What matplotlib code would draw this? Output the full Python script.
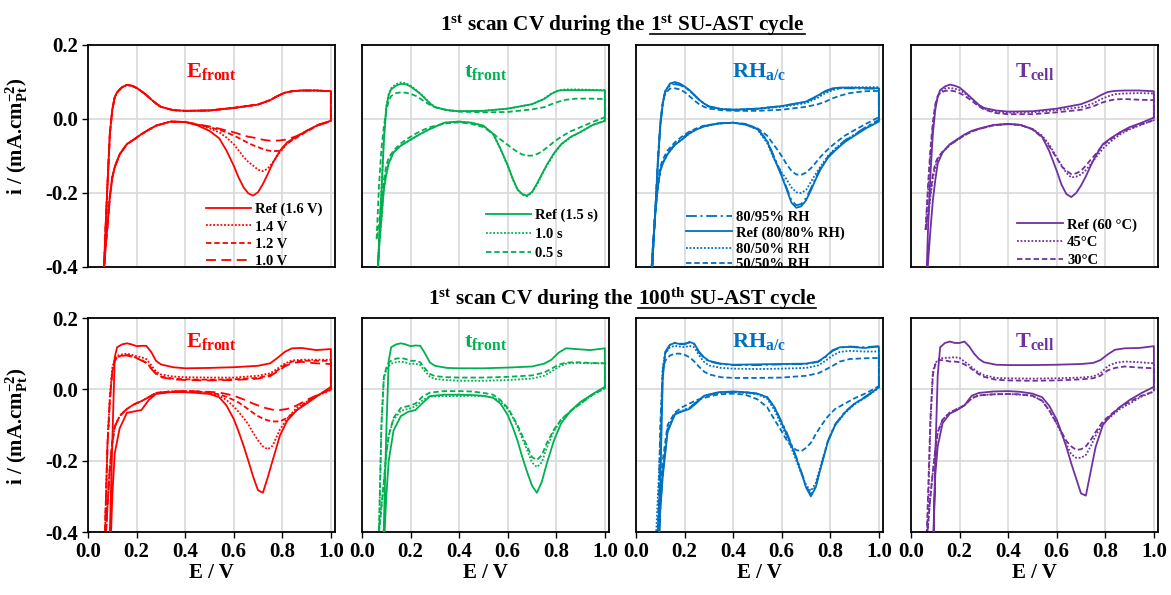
import matplotlib
matplotlib.use('Agg')
import matplotlib.pyplot as plt
from matplotlib.lines import Line2D

plt.rcParams['font.family'] = 'Liberation Serif'
plt.rcParams['font.weight'] = 'bold'
plt.rcParams['axes.unicode_minus'] = False
plt.rcParams['mathtext.fontset'] = 'custom'
plt.rcParams['mathtext.rm'] = 'Liberation Serif:bold'
plt.rcParams['mathtext.bf'] = 'Liberation Serif:bold'
plt.rcParams['mathtext.it'] = 'Liberation Serif:bold'

# potential grids (anodic sweep up, cathodic sweep down)
E_up = [0.06, 0.07, 0.08, 0.09, 0.10, 0.11, 0.12, 0.14, 0.16, 0.18, 0.20, 0.22, 0.24, 0.26,
        0.28, 0.30, 0.35, 0.40, 0.50, 0.60, 0.70, 0.75, 0.78, 0.81, 0.84, 0.88, 0.94, 1.00]
E_dn = [1.00, 0.95, 0.90, 0.86, 0.82, 0.79, 0.76, 0.74, 0.72, 0.70, 0.68, 0.66, 0.64, 0.62,
        0.60, 0.57, 0.54, 0.50, 0.45, 0.40, 0.34, 0.28, 0.25, 0.22, 0.19, 0.16, 0.13, 0.11,
        0.10, 0.09, 0.08, 0.07, 0.06]

# ---- 1st SU-AST cycle ----
# E_front
ef1_up = [-0.55, -0.33, -0.18, -0.04, 0.025, 0.059, 0.072, 0.086, 0.092, 0.090, 0.084, 0.075, 0.065, 0.053,
          0.042, 0.033, 0.024, 0.022, 0.023, 0.030, 0.039, 0.051, 0.062, 0.071, 0.075, 0.077, 0.077, 0.075]
ef1_ref_dn = [-0.005, -0.015, -0.032, -0.047, -0.063, -0.086, -0.120, -0.149, -0.176, -0.198, -0.207, -0.201, -0.184, -0.158,
              -0.126, -0.085, -0.052, -0.032, -0.017, -0.008, -0.007, -0.018, -0.029, -0.041, -0.055, -0.068, -0.096, -0.130,
              -0.158, -0.210, -0.290, -0.365, -0.450]
ef1_14_dn = [-0.005, -0.015, -0.032, -0.047, -0.066, -0.090, -0.118, -0.134, -0.141, -0.137, -0.126, -0.116, -0.102, -0.085,
             -0.068, -0.050, -0.036, -0.025, -0.016, -0.008, -0.007, -0.018, -0.029, -0.041, -0.055, -0.068, -0.096, -0.130,
             -0.158, -0.210, -0.290, -0.365, -0.450]
ef1_12_dn = [-0.005, -0.016, -0.034, -0.050, -0.066, -0.086, -0.087, -0.085, -0.081, -0.076, -0.071, -0.065, -0.058, -0.051,
             -0.045, -0.036, -0.029, -0.022, -0.015, -0.008, -0.007, -0.018, -0.029, -0.041, -0.055, -0.068, -0.096, -0.130,
             -0.158, -0.210, -0.290, -0.365, -0.450]
ef1_10_dn = [-0.006, -0.017, -0.032, -0.046, -0.055, -0.058, -0.059, -0.058, -0.056, -0.053, -0.050, -0.048, -0.044, -0.040,
             -0.036, -0.031, -0.026, -0.020, -0.014, -0.008, -0.007, -0.018, -0.029, -0.041, -0.055, -0.068, -0.096, -0.130,
             -0.158, -0.210, -0.290, -0.365, -0.450]

# t_front
tf1_ref_up = [-0.55, -0.33, -0.20, -0.06, 0.030, 0.065, 0.080, 0.090, 0.095, 0.094, 0.088, 0.078, 0.068, 0.055,
              0.042, 0.032, 0.024, 0.021, 0.022, 0.028, 0.040, 0.054, 0.068, 0.077, 0.078, 0.078, 0.078, 0.077]
tf1_10_up = [-0.55, -0.33, -0.19, -0.05, 0.035, 0.068, 0.083, 0.094, 0.099, 0.097, 0.090, 0.080, 0.069, 0.056,
             0.043, 0.033, 0.024, 0.021, 0.022, 0.028, 0.040, 0.055, 0.069, 0.078, 0.080, 0.080, 0.079, 0.078]
tf1_05_up = [-0.325, -0.18, -0.08, -0.02, 0.022, 0.050, 0.062, 0.070, 0.072, 0.071, 0.068, 0.063, 0.055, 0.046,
             0.038, 0.032, 0.024, 0.020, 0.018, 0.019, 0.026, 0.032, 0.040, 0.047, 0.052, 0.055, 0.055, 0.054]
tf1_ref_dn = [-0.005, -0.016, -0.035, -0.048, -0.068, -0.093, -0.125, -0.150, -0.175, -0.197, -0.207, -0.203, -0.190, -0.160,
              -0.125, -0.080, -0.040, -0.018, -0.010, -0.007, -0.010, -0.027, -0.037, -0.048, -0.060, -0.072, -0.090, -0.120,
              -0.149, -0.190, -0.270, -0.350, -0.450]
tf1_10_dn = [-0.005, -0.016, -0.035, -0.049, -0.069, -0.095, -0.127, -0.152, -0.178, -0.199, -0.209, -0.205, -0.191, -0.162,
             -0.127, -0.082, -0.041, -0.019, -0.010, -0.007, -0.010, -0.027, -0.037, -0.048, -0.060, -0.072, -0.090, -0.120,
             -0.149, -0.190, -0.270, -0.350, -0.450]
tf1_05_dn = [0.005, -0.008, -0.022, -0.033, -0.048, -0.062, -0.078, -0.088, -0.095, -0.099, -0.099, -0.096, -0.089, -0.080,
             -0.070, -0.055, -0.040, -0.022, -0.013, -0.009, -0.012, -0.022, -0.030, -0.040, -0.052, -0.066, -0.085, -0.105,
             -0.125, -0.165, -0.220, -0.290, -0.325]

# RH a/c
rh1_ref_up = [-0.55, -0.36, -0.24, -0.12, -0.020, 0.040, 0.075, 0.096, 0.100, 0.096, 0.088, 0.078, 0.065, 0.052,
              0.042, 0.034, 0.027, 0.025, 0.028, 0.035, 0.047, 0.064, 0.076, 0.083, 0.085, 0.085, 0.084, 0.083]
rh1_95_up = [-0.55, -0.36, -0.24, -0.12, -0.015, 0.042, 0.073, 0.091, 0.094, 0.092, 0.086, 0.077, 0.065, 0.052,
             0.042, 0.034, 0.027, 0.025, 0.028, 0.035, 0.046, 0.062, 0.074, 0.081, 0.083, 0.083, 0.082, 0.082]
rh1_50_up = [-0.55, -0.36, -0.24, -0.12, -0.015, 0.042, 0.074, 0.094, 0.097, 0.094, 0.087, 0.077, 0.065, 0.052,
             0.042, 0.034, 0.027, 0.025, 0.027, 0.033, 0.043, 0.058, 0.070, 0.078, 0.083, 0.085, 0.086, 0.086]
rh1_5050_up = [-0.55, -0.36, -0.24, -0.11, -0.010, 0.045, 0.070, 0.082, 0.083, 0.080, 0.073, 0.062, 0.050, 0.040,
               0.033, 0.028, 0.024, 0.022, 0.022, 0.025, 0.033, 0.040, 0.047, 0.056, 0.063, 0.070, 0.075, 0.076]
rh1_ref_dn = [-0.007, -0.024, -0.045, -0.062, -0.085, -0.105, -0.136, -0.163, -0.193, -0.220, -0.236, -0.240, -0.226, -0.190,
              -0.155, -0.108, -0.060, -0.027, -0.015, -0.010, -0.012, -0.020, -0.028, -0.039, -0.055, -0.070, -0.095, -0.120,
              -0.140, -0.183, -0.250, -0.340, -0.450]
rh1_95_dn = [-0.002, -0.020, -0.042, -0.058, -0.082, -0.102, -0.132, -0.158, -0.188, -0.214, -0.230, -0.233, -0.220, -0.186,
             -0.150, -0.104, -0.058, -0.026, -0.014, -0.010, -0.012, -0.019, -0.026, -0.036, -0.052, -0.068, -0.092, -0.118,
             -0.138, -0.180, -0.250, -0.340, -0.450]
rh1_50_dn = [-0.005, -0.022, -0.042, -0.058, -0.080, -0.100, -0.128, -0.148, -0.170, -0.192, -0.200, -0.198, -0.185, -0.163,
             -0.145, -0.110, -0.065, -0.028, -0.015, -0.010, -0.012, -0.020, -0.028, -0.039, -0.055, -0.070, -0.095, -0.120,
             -0.140, -0.183, -0.250, -0.340, -0.450]
rh1_5050_dn = [0.005, -0.012, -0.030, -0.045, -0.065, -0.082, -0.102, -0.118, -0.133, -0.145, -0.151, -0.150, -0.140, -0.122,
               -0.100, -0.072, -0.045, -0.025, -0.013, -0.010, -0.012, -0.018, -0.025, -0.034, -0.047, -0.063, -0.085, -0.110,
               -0.130, -0.175, -0.245, -0.340, -0.450]

# T_cell
tc1_ref_up = [-0.50, -0.30, -0.15, -0.04, 0.025, 0.060, 0.078, 0.088, 0.093, 0.090, 0.085, 0.074, 0.062, 0.050,
              0.038, 0.030, 0.023, 0.020, 0.021, 0.028, 0.040, 0.053, 0.064, 0.073, 0.076, 0.077, 0.077, 0.075]
tc1_45_up = [-0.30, -0.20, -0.10, -0.02, 0.035, 0.060, 0.072, 0.082, 0.084, 0.082, 0.078, 0.070, 0.060, 0.048,
             0.036, 0.028, 0.019, 0.017, 0.018, 0.024, 0.032, 0.042, 0.053, 0.061, 0.067, 0.069, 0.070, 0.069]
tc1_30_up = [-0.30, -0.18, -0.08, -0.01, 0.040, 0.062, 0.070, 0.076, 0.077, 0.075, 0.070, 0.063, 0.054, 0.044,
             0.034, 0.026, 0.016, 0.013, 0.013, 0.018, 0.025, 0.034, 0.043, 0.049, 0.053, 0.054, 0.052, 0.051]
tc1_ref_dn = [0.004, -0.010, -0.022, -0.036, -0.053, -0.068, -0.100, -0.126, -0.155, -0.180, -0.200, -0.211, -0.203, -0.178,
              -0.140, -0.088, -0.048, -0.027, -0.016, -0.013, -0.016, -0.026, -0.032, -0.042, -0.055, -0.068, -0.090, -0.120,
              -0.165, -0.220, -0.300, -0.390, -0.500]
tc1_45_dn = [-0.003, -0.015, -0.028, -0.042, -0.062, -0.080, -0.105, -0.122, -0.138, -0.150, -0.156, -0.158, -0.146, -0.125,
             -0.104, -0.070, -0.045, -0.027, -0.016, -0.014, -0.017, -0.027, -0.034, -0.044, -0.057, -0.070, -0.090, -0.110,
             -0.130, -0.160, -0.210, -0.270, -0.300]
tc1_30_dn = [-0.003, -0.014, -0.026, -0.038, -0.056, -0.070, -0.095, -0.110, -0.126, -0.140, -0.147, -0.149, -0.140, -0.128,
             -0.105, -0.075, -0.050, -0.028, -0.016, -0.014, -0.017, -0.027, -0.034, -0.044, -0.057, -0.070, -0.088, -0.105,
             -0.120, -0.150, -0.200, -0.260, -0.300]

# ---- 100th SU-AST cycle ----
ef2_ref_up = [-0.90, -0.80, -0.70, -0.40, -0.150, 0.090, 0.118, 0.126, 0.129, 0.126, 0.121, 0.122, 0.122, 0.105,
              0.080, 0.070, 0.062, 0.059, 0.060, 0.062, 0.066, 0.073, 0.088, 0.105, 0.115, 0.116, 0.110, 0.113]
ef2_14_up = [-0.60, -0.40, -0.15, -0.02, 0.060, 0.085, 0.094, 0.098, 0.100, 0.097, 0.093, 0.090, 0.085, 0.068,
             0.050, 0.042, 0.036, 0.034, 0.033, 0.033, 0.038, 0.045, 0.058, 0.072, 0.081, 0.083, 0.083, 0.083]
ef2_12_up = [-0.60, -0.40, -0.16, -0.03, 0.050, 0.080, 0.090, 0.095, 0.096, 0.093, 0.088, 0.082, 0.075, 0.060,
             0.045, 0.036, 0.030, 0.028, 0.027, 0.028, 0.032, 0.040, 0.053, 0.068, 0.078, 0.080, 0.080, 0.080]
ef2_10_up = [-0.60, -0.40, -0.16, -0.03, 0.050, 0.080, 0.090, 0.094, 0.095, 0.092, 0.087, 0.081, 0.074, 0.058,
             0.043, 0.034, 0.028, 0.026, 0.025, 0.026, 0.030, 0.037, 0.050, 0.064, 0.074, 0.077, 0.073, 0.071]
ef2_ref_dn = [0.007, -0.016, -0.040, -0.058, -0.088, -0.130, -0.200, -0.247, -0.290, -0.283, -0.245, -0.200, -0.157, -0.118,
              -0.083, -0.045, -0.022, -0.013, -0.010, -0.008, -0.008, -0.013, -0.030, -0.058, -0.062, -0.066, -0.110, -0.180,
              -0.300, -0.500, -0.700, -0.800, -0.900]
ef2_14_dn = [-0.002, -0.016, -0.035, -0.051, -0.082, -0.113, -0.158, -0.168, -0.160, -0.143, -0.122, -0.098, -0.080, -0.063,
             -0.048, -0.030, -0.018, -0.010, -0.006, -0.005, -0.006, -0.010, -0.022, -0.033, -0.042, -0.055, -0.075, -0.105,
             -0.150, -0.220, -0.330, -0.450, -0.600]
ef2_12_dn = [0.000, -0.015, -0.035, -0.058, -0.080, -0.090, -0.090, -0.087, -0.082, -0.075, -0.066, -0.056, -0.046, -0.037,
             -0.030, -0.021, -0.014, -0.009, -0.006, -0.005, -0.006, -0.010, -0.022, -0.033, -0.042, -0.055, -0.075, -0.105,
             -0.150, -0.220, -0.330, -0.450, -0.600]
ef2_10_dn = [0.000, -0.014, -0.030, -0.045, -0.055, -0.058, -0.057, -0.054, -0.050, -0.045, -0.040, -0.034, -0.028, -0.023,
             -0.018, -0.013, -0.009, -0.007, -0.006, -0.005, -0.006, -0.010, -0.022, -0.033, -0.042, -0.055, -0.075, -0.105,
             -0.150, -0.220, -0.330, -0.450, -0.600]

tf2_ref_up = [-0.70, -0.70, -0.70, -0.38, -0.120, 0.080, 0.118, 0.126, 0.129, 0.126, 0.121, 0.123, 0.122, 0.100,
              0.075, 0.066, 0.060, 0.059, 0.059, 0.061, 0.064, 0.072, 0.083, 0.103, 0.115, 0.113, 0.110, 0.115]
tf2_10_up = [-0.60, -0.40, -0.10, 0.030, 0.055, 0.065, 0.072, 0.076, 0.078, 0.075, 0.071, 0.072, 0.068, 0.050,
             0.035, 0.029, 0.026, 0.024, 0.024, 0.026, 0.030, 0.038, 0.050, 0.063, 0.072, 0.074, 0.073, 0.073]
tf2_05_up = [-0.60, -0.40, -0.10, 0.035, 0.060, 0.075, 0.080, 0.086, 0.088, 0.085, 0.080, 0.080, 0.076, 0.058,
             0.043, 0.037, 0.034, 0.033, 0.033, 0.035, 0.039, 0.047, 0.058, 0.069, 0.075, 0.076, 0.074, 0.073]
tf2_ref_dn = [0.007, -0.013, -0.035, -0.060, -0.095, -0.144, -0.210, -0.260, -0.290, -0.270, -0.232, -0.190, -0.143, -0.105,
              -0.072, -0.040, -0.024, -0.018, -0.016, -0.015, -0.015, -0.019, -0.038, -0.058, -0.063, -0.075, -0.115, -0.200,
              -0.300, -0.450, -0.700, -0.700, -0.700]
tf2_10_dn = [0.003, -0.015, -0.040, -0.060, -0.085, -0.118, -0.165, -0.205, -0.218, -0.205, -0.170, -0.138, -0.105, -0.078,
             -0.055, -0.035, -0.022, -0.019, -0.018, -0.019, -0.019, -0.020, -0.030, -0.048, -0.055, -0.060, -0.085, -0.130,
             -0.180, -0.260, -0.330, -0.400, -0.500]
tf2_05_dn = [0.003, -0.015, -0.040, -0.060, -0.085, -0.113, -0.152, -0.185, -0.198, -0.190, -0.160, -0.130, -0.100, -0.075,
             -0.052, -0.030, -0.015, -0.010, -0.006, -0.005, -0.005, -0.009, -0.020, -0.040, -0.047, -0.052, -0.080, -0.130,
             -0.180, -0.260, -0.330, -0.400, -0.500]

rh2_ref_up = [-0.70, -0.70, -0.70, -0.55, -0.270, 0.030, 0.100, 0.125, 0.130, 0.127, 0.126, 0.133, 0.128, 0.105,
              0.090, 0.080, 0.072, 0.069, 0.070, 0.071, 0.072, 0.078, 0.092, 0.110, 0.118, 0.119, 0.116, 0.120]
rh2_95_up = [-0.70, -0.70, -0.60, -0.45, -0.200, 0.050, 0.105, 0.125, 0.131, 0.128, 0.128, 0.131, 0.126, 0.103,
             0.088, 0.078, 0.071, 0.068, 0.068, 0.070, 0.071, 0.077, 0.090, 0.108, 0.117, 0.120, 0.118, 0.121]
rh2_50_up = [-0.70, -0.60, -0.45, -0.30, -0.150, 0.060, 0.100, 0.118, 0.122, 0.120, 0.118, 0.122, 0.118, 0.095,
             0.077, 0.067, 0.060, 0.058, 0.057, 0.058, 0.060, 0.067, 0.080, 0.095, 0.105, 0.108, 0.106, 0.106]
rh2_5050_up = [-0.70, -0.60, -0.50, -0.40, -0.100, 0.050, 0.080, 0.095, 0.100, 0.100, 0.097, 0.090, 0.078, 0.063,
               0.050, 0.042, 0.034, 0.032, 0.032, 0.033, 0.038, 0.045, 0.055, 0.066, 0.078, 0.085, 0.087, 0.088]
rh2_ref_dn = [0.006, -0.020, -0.040, -0.065, -0.100, -0.147, -0.222, -0.275, -0.300, -0.275, -0.232, -0.193, -0.157, -0.125,
              -0.094, -0.050, -0.022, -0.012, -0.008, -0.006, -0.008, -0.018, -0.038, -0.055, -0.062, -0.070, -0.120, -0.245,
              -0.340, -0.500, -0.700, -0.700, -0.700]
rh2_95_dn = [0.006, -0.018, -0.040, -0.063, -0.098, -0.145, -0.220, -0.270, -0.296, -0.270, -0.230, -0.190, -0.155, -0.120,
             -0.092, -0.050, -0.022, -0.012, -0.008, -0.007, -0.009, -0.018, -0.035, -0.052, -0.060, -0.070, -0.115, -0.235,
             -0.330, -0.480, -0.700, -0.700, -0.700]
rh2_50_dn = [0.004, -0.020, -0.042, -0.067, -0.100, -0.145, -0.215, -0.262, -0.285, -0.268, -0.235, -0.200, -0.165, -0.132,
             -0.102, -0.058, -0.026, -0.014, -0.010, -0.008, -0.010, -0.020, -0.035, -0.052, -0.060, -0.068, -0.110, -0.230,
             -0.330, -0.480, -0.700, -0.700, -0.700]
rh2_5050_dn = [0.009, -0.010, -0.025, -0.040, -0.055, -0.076, -0.104, -0.126, -0.150, -0.164, -0.174, -0.170, -0.160, -0.142,
               -0.118, -0.085, -0.050, -0.028, -0.015, -0.012, -0.014, -0.024, -0.030, -0.040, -0.050, -0.065, -0.100, -0.200,
               -0.280, -0.400, -0.550, -0.700, -0.700]

tc2_ref_up = [-0.70, -0.70, -0.70, -0.52, -0.190, 0.040, 0.118, 0.130, 0.134, 0.130, 0.130, 0.134, 0.120, 0.100,
              0.085, 0.076, 0.069, 0.068, 0.068, 0.069, 0.071, 0.074, 0.082, 0.098, 0.111, 0.115, 0.116, 0.121]
tc2_45_up = [-0.50, -0.35, -0.10, 0.050, 0.073, 0.082, 0.087, 0.088, 0.089, 0.090, 0.088, 0.078, 0.068, 0.056,
             0.047, 0.040, 0.032, 0.031, 0.030, 0.031, 0.033, 0.036, 0.045, 0.065, 0.074, 0.078, 0.076, 0.073]
tc2_30_up = [-0.50, -0.30, -0.08, 0.040, 0.070, 0.078, 0.082, 0.081, 0.078, 0.078, 0.076, 0.070, 0.062, 0.052,
             0.042, 0.035, 0.027, 0.025, 0.024, 0.025, 0.028, 0.031, 0.038, 0.053, 0.060, 0.064, 0.061, 0.059]
tc2_ref_dn = [0.007, -0.010, -0.030, -0.050, -0.075, -0.100, -0.162, -0.230, -0.298, -0.292, -0.250, -0.208, -0.162, -0.122,
              -0.085, -0.047, -0.022, -0.012, -0.007, -0.005, -0.006, -0.010, -0.018, -0.045, -0.058, -0.068, -0.095, -0.160,
              -0.240, -0.450, -0.700, -0.700, -0.700]
tc2_45_dn = [-0.006, -0.020, -0.040, -0.055, -0.078, -0.095, -0.130, -0.160, -0.184, -0.192, -0.192, -0.182, -0.155, -0.125,
             -0.097, -0.060, -0.032, -0.018, -0.015, -0.013, -0.014, -0.017, -0.025, -0.045, -0.055, -0.065, -0.085, -0.120,
             -0.170, -0.230, -0.300, -0.380, -0.500]
tc2_30_dn = [-0.006, -0.018, -0.035, -0.050, -0.072, -0.090, -0.120, -0.142, -0.160, -0.168, -0.170, -0.160, -0.145, -0.120,
             -0.095, -0.060, -0.032, -0.018, -0.014, -0.013, -0.014, -0.017, -0.025, -0.045, -0.055, -0.065, -0.085, -0.120,
             -0.170, -0.230, -0.300, -0.380, -0.500]

ef_labels = ['Ref (1.6 V)', '1.4 V', '1.2 V', '1.0 V']
tf_labels = ['Ref (1.5 s)', '1.0 s', '0.5 s']
rh_labels = ['80/95% RH', 'Ref (80/80% RH)', '80/50% RH', '50/50% RH']
tc_labels = ['Ref (60 °C)', '45°C', '30°C']

x_ticks = [0.0, 0.2, 0.4, 0.6, 0.8, 1.0]
y_ticks = [-0.4, -0.2, 0.0, 0.2]

RED, GREEN, BLUE, PURPLE = '#FF0000', '#00B050', '#0070C0', '#7030A0'
SOLID, DOT, DASH, LDASH, DASHDOT = '-', (0, (1, 1)), (0, (3, 1.6)), (0, (5.5, 3)), (0, (6, 2, 1.2, 2))

# row, col, colour, tag, curves (up, dn), styles, legend labels, legend anchor x, y, spacing
panels = [
    (0, 0, RED, r'E$_{front}$', [(ef1_up, ef1_ref_dn), (ef1_up, ef1_14_dn), (ef1_up, ef1_12_dn), (ef1_up, ef1_10_dn)],
     [SOLID, DOT, DASH, LDASH], ef_labels, (0.95, -0.005, 0.28)),
    (0, 1, GREEN, r't$_{front}$', [(tf1_ref_up, tf1_ref_dn), (tf1_10_up, tf1_10_dn), (tf1_05_up, tf1_05_dn)],
     [SOLID, DOT, DASH], tf_labels, (0.957, 0.03, 0.4)),
    (0, 2, BLUE, r'RH$_{a/c}$', [(rh1_95_up, rh1_95_dn), (rh1_ref_up, rh1_ref_dn), (rh1_50_up, rh1_50_dn), (rh1_5050_up, rh1_5050_dn)],
     [DASHDOT, SOLID, DOT, DASH], rh_labels, (0.845, -0.02, 0.18)),
    (0, 3, PURPLE, r'T$_{cell}$', [(tc1_ref_up, tc1_ref_dn), (tc1_45_up, tc1_45_dn), (tc1_30_up, tc1_30_dn)],
     [SOLID, DOT, DASH], tc_labels, (0.915, 0.0, 0.31)),
    (1, 0, RED, r'E$_{front}$', [(ef2_ref_up, ef2_ref_dn), (ef2_14_up, ef2_14_dn), (ef2_12_up, ef2_12_dn), (ef2_10_up, ef2_10_dn)],
     [SOLID, DOT, DASH, LDASH], None, None),
    (1, 1, GREEN, r't$_{front}$', [(tf2_ref_up, tf2_ref_dn), (tf2_10_up, tf2_10_dn), (tf2_05_up, tf2_05_dn)],
     [SOLID, DOT, DASH], None, None),
    (1, 2, BLUE, r'RH$_{a/c}$', [(rh2_95_up, rh2_95_dn), (rh2_ref_up, rh2_ref_dn), (rh2_50_up, rh2_50_dn), (rh2_5050_up, rh2_5050_dn)],
     [DASHDOT, SOLID, DOT, DASH], None, None),
    (1, 3, PURPLE, r'T$_{cell}$', [(tc2_ref_up, tc2_ref_dn), (tc2_45_up, tc2_45_dn), (tc2_30_up, tc2_30_dn)],
     [SOLID, DOT, DASH], None, None),
]

W, H = 1171, 595
fig = plt.figure(figsize=(W / 100, H / 100), dpi=100)
col_left = [88, 362, 636, 911]
col_w = 247
row_top = [45, 318]
row_h = [222, 214]

for row, col, color, tag, curves, styles, labels, leg in panels:
    ax = fig.add_axes([col_left[col] / W, 1 - (row_top[row] + row_h[row]) / H, col_w / W, row_h[row] / H])
    for (up, dn), ls in zip(curves, styles):
        z = 3 if ls == SOLID else 2
        ax.plot(E_up + E_dn, up + dn, color=color, ls=ls, lw=1.3, zorder=z)
    ax.set_xlim(0, 1.017)
    ax.set_ylim(-0.4, 0.2)
    ax.set_xticks(x_ticks)
    ax.set_yticks(y_ticks)
    ax.set_xticklabels(['%.1f' % v for v in x_ticks], fontsize=15, fontweight='bold')
    ax.set_yticklabels(['%.1f' % v for v in y_ticks], fontsize=15, fontweight='bold')
    ax.grid(True, color='#d9d9d9', lw=1.2)
    ax.set_axisbelow(True)
    for s in ax.spines.values():
        s.set_linewidth(1.3)
    ax.tick_params(direction='out', length=4, width=1, pad=3)
    if row == 0:
        ax.tick_params(axis='x', length=0, labelbottom=False)
    else:
        ax.set_xlabel('E / V', fontsize=15, fontweight='bold', labelpad=1)
    if col > 0:
        ax.tick_params(axis='y', length=0, labelleft=False)
    else:
        ax.set_ylabel(r'i / (mA.cm$^{-2}_{Pt}$)', fontsize=15, fontweight='bold')
        ax.yaxis.set_label_coords(-0.235, 0.59 if row == 0 else 0.495)
    ty = 0.855 if row == 0 else 0.865
    ax.text(0.5, ty, tag, transform=ax.transAxes, color=color, fontsize=16,
            fontweight='bold', ha='center', va='baseline')
    if labels is not None:
        handles = [Line2D([], [], color=color, ls=ls, lw=1.3) for ls in styles]
        ax.legend(handles, labels, loc='lower right', bbox_to_anchor=(leg[0], leg[1]),
                  frameon=False, prop={'size': 10.5, 'weight': 'bold'}, handlelength=3.1,
                  handletextpad=0.3, labelspacing=leg[2], borderpad=0, borderaxespad=0)

# row titles with underlined part
titles = [('1$^{st}$ scan CV during the', '1$^{st}$ SU-AST cycle', 645, 31),
          ('1$^{st}$ scan CV during the', '100$^{th}$ SU-AST cycle', 633, 305)]
fig.canvas.draw()
renderer = fig.canvas.get_renderer()
for pre, post, xs, yb in titles:
    fig.text(xs / W, 1 - yb / H, pre, fontsize=15.3, fontweight='bold', ha='right', va='baseline')
    t2 = fig.text((xs + 5) / W, 1 - yb / H, post, fontsize=15.3, fontweight='bold', ha='left', va='baseline')
    bb = t2.get_window_extent(renderer)
    fig.add_artist(Line2D([bb.x0 / W, bb.x1 / W], [1 - (yb + 3) / H] * 2, color='black', lw=1.2))

fig.savefig('out.png', dpi=100)
